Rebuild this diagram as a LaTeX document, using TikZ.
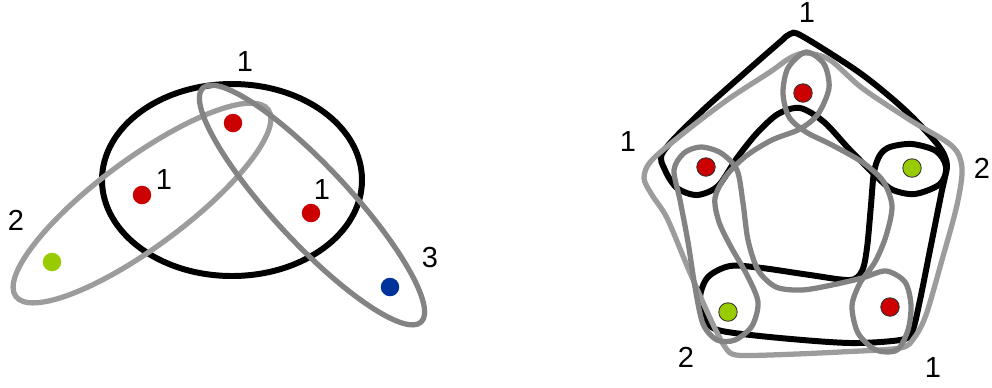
\documentclass[tikz,border=0pt]{standalone}
\usepackage{fontspec}
\setmainfont{Liberation Sans}
\usepackage{xcolor}
\usepackage{tikz}
\usetikzlibrary{positioning}

\definecolor{vred}{HTML}{CC0000}
\definecolor{vgreen}{HTML}{99CC00}
\definecolor{vblue}{HTML}{003399}
\definecolor{edgelight}{HTML}{9C9C9C}
\definecolor{edgemid}{HTML}{838383}

\begin{document}
\begin{tikzpicture}[
  x=0.02cm, y=-0.02cm,
  dot/.style={circle, inner sep=0pt, minimum size=0.37cm},
  reddot/.style={dot, fill=vred},
  greendot/.style={dot, fill=vgreen},
  bluedot/.style={dot, fill=vblue},
  ring/.style={draw=black!80, line width=0.5pt},
  lbl/.style={font=\fontsize{16.5}{18}\selectfont, inner sep=0pt},
  hblack/.style={draw=black, line width=3.4pt},
  hlight/.style={draw=edgelight, line width=3pt},
  hmid/.style={draw=edgemid, line width=3pt},
]
\useasboundingbox (0,0) rectangle (992,387);

% left hypergraph
\draw[hblack] (232,180) ellipse [x radius=130, y radius=96];
\draw[hlight, rotate around={36.5:(142,203)}] (142,203) ellipse [x radius=157, y radius=44];
\draw[hmid, rotate around={-47:(312,205)}] (312,205) ellipse [x radius=160, y radius=38];

\node[reddot] (aT) at (233,123) {};
\node[reddot] (aL) at (142,195) {};
\node[reddot] (aR) at (311,213) {};
\node[greendot] (aG) at (52,262) {};
\node[bluedot] (aB) at (390,287) {};

\node[lbl] (laT) at (245,62) {1};
\node[lbl] (laL) at (164,180) {1};
\node[lbl] (laR) at (322,190) {1};
\node[lbl] (laG) at (16,220) {2};
\node[lbl] (laB) at (430,258) {3};

% right hypergraph
\draw[hblack] plot[smooth cycle, tension=0.5] coordinates {
  (663,152) (700,113) (748,70) (780,42) (790,34) (802,36) (860,73) (905,110)
  (938,145) (947,165) (940,184) (915,194) (893,190) (878,178) (850,150)
  (824,122) (800,108) (778,114) (757,133) (737,158) (718,186) (697,195)
  (677,188) (665,170)};
\draw[hblack] plot[smooth cycle, tension=0.5] coordinates {
  (880,155) (890,147) (912,144) (936,151) (946,167) (941,195) (931,245)
  (920,300) (912,332) (900,340) (850,343) (780,338) (722,331) (707,322)
  (700,298) (708,277) (730,266) (762,268) (810,275) (850,280) (862,271)
  (867,248) (871,205) (874,172)};
\draw[hlight] plot[smooth cycle, tension=0.5] coordinates {
  (806,53) (830,60) (862,88) (910,120) (952,146) (962,168) (957,205)
  (942,260) (926,315) (914,338) (900,348) (840,352) (770,355) (736,355)
  (725,347) (710,318) (688,268) (667,218) (652,195) (644,178) (652,160)
  (690,128) (730,98) (770,72) (790,58)};
\draw[hmid] plot[smooth cycle, tension=0.5] coordinates {
  (806,52) (824,64) (829,88) (818,114) (800,129) (772,140) (746,156)
  (726,176) (715,198) (719,222) (731,247) (747,275) (758,302) (752,326)
  (735,340) (717,340) (703,324) (695,287) (688,242) (680,200) (674,170)
  (684,153) (701,147) (721,153) (737,170) (743,203) (748,240) (758,270)
  (776,287) (802,290) (832,285) (862,278) (886,271) (905,282) (911,305)
  (908,330) (897,350) (876,350) (858,333) (852,306) (860,283) (875,262)
  (886,236) (892,206) (883,181) (862,162) (832,145) (806,132) (789,117)
  (783,93) (788,68)};

\node[reddot, ring] (bT) at (803,93) {};
\node[reddot, ring] (bL) at (706,167) {};
\node[greendot, ring] (bR) at (912,168) {};
\node[greendot, ring] (bBL) at (728,312) {};
\node[reddot, ring] (bBR) at (890,307) {};

\node[lbl] (lbT) at (807,13) {1};
\node[lbl] (lbL) at (628,142) {1};
\node[lbl] (lbR) at (982,168) {2};
\node[lbl] (lbBL) at (686,357) {2};
\node[lbl] (lbBR) at (933,368) {1};

\end{tikzpicture}
\end{document}
